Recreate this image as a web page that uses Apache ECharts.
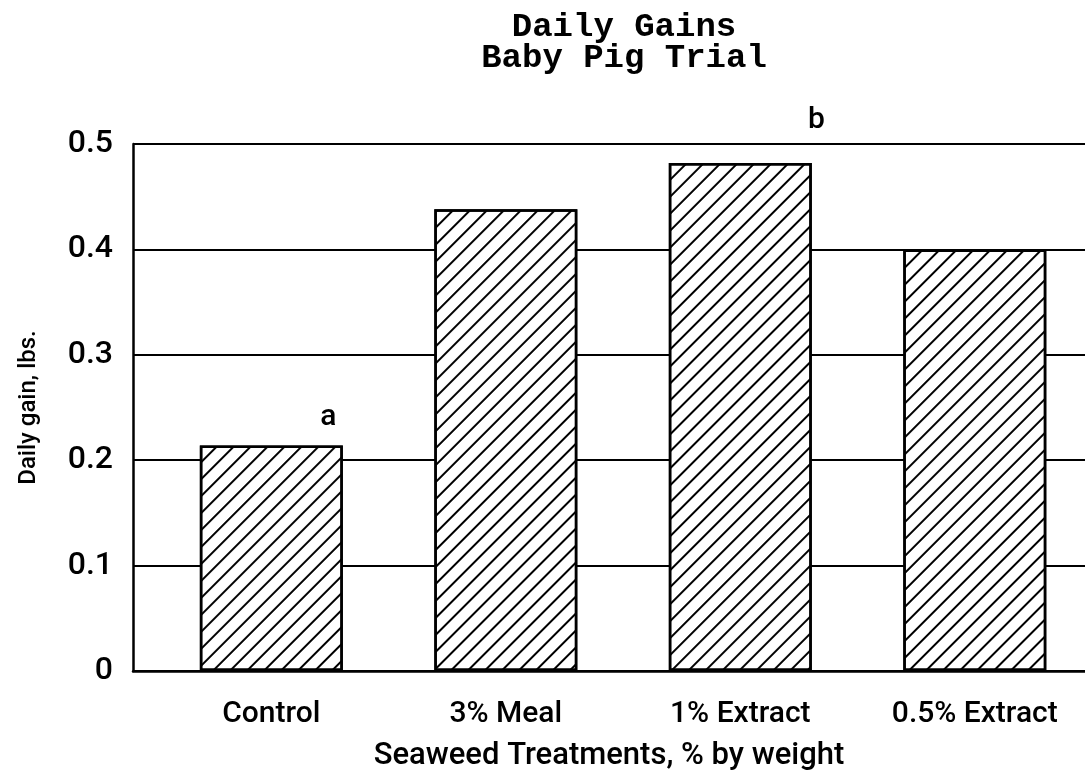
<!DOCTYPE html>
<html>
<head>
<meta charset="utf-8">
<script src="https://cdn.jsdelivr.net/npm/echarts@6/dist/echarts.min.js"></script>
<style>
  html, body { margin: 0; padding: 0; background: #fff; }
  #main { width: 1085px; height: 777px; }
</style>
</head>
<body>
<div id="main"></div>
<script>
// data
var categories = ['Control', '3% Meal', '1% Extract', '0.5% Extract'];
var positions = [1, 2, 3, 4];
var gains = [0.214, 0.438, 0.482, 0.400];
var letters = ['a', '', 'b', ''];
var yTicks = [0, 0.1, 0.2, 0.3, 0.4, 0.5];

var labelFont = 'Roboto, Liberation Sans, Arial, sans-serif';

// letter offsets (style only)
var letterOffset = [[57, -8], [0, 0], [76, -22], [0, 0]];

var seriesData = [];
for (var i = 0; i < positions.length; i++) {
    var item = { value: [positions[i], gains[i]] };
    if (letters[i]) {
        item.label = {
            show: true,
            position: 'top',
            formatter: letters[i],
            offset: letterOffset[i]
        };
    }
    seriesData.push(item);
}

var myChart = echarts.init(document.getElementById('main'));
var option = {
    animation: false,
    backgroundColor: '#fff',
    title: {
        text: 'Daily Gains\nBaby Pig Trial',
        left: 619,
        textAlign: 'center',
        top: 7,
        textStyle: {
            fontFamily: 'Liberation Mono, Courier New, monospace',
            fontWeight: 'bold',
            fontSize: 34,
            lineHeight: 31,
            color: '#000'
        }
    },
    grid: { left: 133, right: 0, top: 144, bottom: 106, outerBoundsMode: 'none', containLabel: false },
    xAxis: {
        type: 'value',
        min: 0.41,
        max: 4.47,
        name: 'Seaweed Treatments, % by weight',
        nameLocation: 'middle',
        nameGap: 70,
        nameTextStyle: { fontFamily: labelFont, fontWeight: 500, fontSize: 31, color: '#000' },
        axisLine: { show: true, lineStyle: { color: '#000', width: 2.5 } },
        axisTick: { show: false },
        splitLine: { show: false },
        axisLabel: {
            customValues: positions,
            margin: 28,
            fontFamily: labelFont,
            fontWeight: 500,
            fontSize: 30,
            color: '#000',
            formatter: function (v) {
                var k = positions.indexOf(Math.round(v));
                return k >= 0 ? categories[k] : '';
            }
        }
    },
    yAxis: {
        type: 'value',
        min: yTicks[0],
        max: yTicks[yTicks.length - 1],
        interval: 0.1,
        name: 'Daily gain, lbs.',
        nameLocation: 'middle',
        nameGap: 92,
        nameTextStyle: { fontFamily: labelFont, fontWeight: 500, fontSize: 24, color: '#000' },
        axisLine: { show: true, lineStyle: { color: '#000', width: 2.5 } },
        axisTick: { show: false },
        splitLine: { show: true, lineStyle: { color: '#000', width: 2 } },
        axisLabel: {
            margin: 20,
            fontFamily: labelFont,
            fontWeight: 500,
            fontSize: 32,
            color: '#000',
            formatter: function (v) {
                return v === 0 ? '0' : v.toFixed(1);
            }
        }
    },
    series: [{
        type: 'bar',
        barWidth: 143,
        data: seriesData,
        itemStyle: {
            color: '#fff',
            borderColor: '#000',
            borderWidth: 2.5,
            decal: {
                symbol: 'rect',
                symbolSize: 1,
                color: '#000',
                backgroundColor: 'rgba(0,0,0,0)',
                dashArrayX: [1, 0],
                dashArrayY: [2, 10],
                rotation: -Math.PI / 4
            }
        },
        label: {
            show: false,
            fontFamily: labelFont,
            fontWeight: 500,
            fontSize: 30,
            color: '#000'
        }
    }]
};
myChart.setOption(option);
</script>
</body>
</html>
